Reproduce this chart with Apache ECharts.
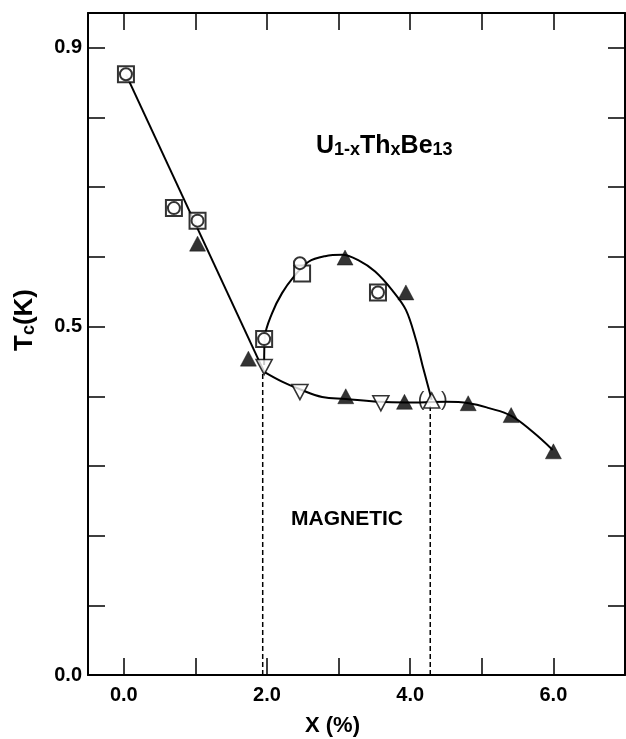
<!DOCTYPE html>
<html>
<head>
<meta charset="utf-8">
<script src="https://cdn.jsdelivr.net/npm/echarts@6/dist/echarts.min.js"></script>
<style>
  html, body { margin: 0; padding: 0; background: #ffffff; }
  #chart { width: 626px; height: 739px; }
</style>
</head>
<body>
<div id="chart"></div>
<script>
// Tc of U(1-x)Th(x)Be13 versus thorium concentration x (%)

// Samples measured with both square and circle symbols
const squareCircle = [[0.03, 0.862], [0.70, 0.670], [1.03, 0.652], [1.96, 0.482], [3.55, 0.549]];
// Sample at x = 2.5 where the two symbols split
const splitSquare = [[2.49, 0.576]];
const splitCircle = [[2.46, 0.591]];
// Filled triangles
const filledUp = [[1.03, 0.619], [1.74, 0.454], [3.09, 0.599], [3.94, 0.549], [3.10, 0.400],
                  [3.92, 0.392], [4.81, 0.390], [5.41, 0.373], [6.00, 0.321]];
// Open down-pointing triangles (lower transition)
const openDown = [[1.96, 0.442], [2.46, 0.406], [3.59, 0.390]];
// Open up triangle, bracketed
const openUp = [[4.30, 0.394]];

// Phase boundary lines
const linearBranch = [[0.03, 0.862], [1.96, 0.435]];
const domeCurve = [[1.96, 0.445], [1.97, 0.485], [2.07, 0.519], [2.21, 0.548], [2.37, 0.571],
                   [2.58, 0.593], [2.81, 0.601], [3.05, 0.603], [3.28, 0.595], [3.51, 0.579],
                   [3.75, 0.552], [3.94, 0.524], [4.08, 0.481], [4.17, 0.445], [4.24, 0.418],
                   [4.30, 0.395]];
const lowerCurve = [[1.96, 0.435], [2.21, 0.421], [2.46, 0.410], [2.77, 0.399], [3.10, 0.396],
                    [3.56, 0.392], [3.94, 0.391], [4.50, 0.392], [4.82, 0.390], [5.10, 0.383],
                    [5.41, 0.372], [5.71, 0.349], [5.99, 0.323]];
const boundaryLeft = [[1.94, 0], [1.94, 0.44]];
const boundaryRight = [[4.28, 0], [4.28, 0.39]];

// Axis ticks and labels
const xTicks = [0, 1, 2, 3, 4, 5, 6];
const xLabels = [0, 2, 4, 6];
const yTicks = [0.1, 0.2, 0.3, 0.4, 0.5, 0.6, 0.7, 0.8, 0.9];
const yLabels = [0, 0.5, 0.9];

const FONT = '"Liberation Sans", Arial, Helvetica, sans-serif';

const chart = echarts.init(document.getElementById('chart'), null, { renderer: 'canvas' });

function frameAxis(extra) {
  return Object.assign({
    type: 'value',
    axisLine: { show: true, onZero: false, lineStyle: { color: '#000', width: 2 } },
    splitLine: { show: false },
    axisLabel: { show: false },
    axisTick: { show: true, inside: true, length: 17, lineStyle: { color: '#000', width: 1.5 } }
  }, extra);
}

const labelStyle = { color: '#000', fontSize: 20, fontWeight: 'bold', fontFamily: FONT };

const lineBase = {
  type: 'line', showSymbol: false, symbol: 'none', silent: true,
  lineStyle: { color: '#000', width: 2 }, z: 2
};
const markerBase = {
  type: 'scatter', silent: true, z: 5,
  emphasis: { disabled: true }
};

chart.setOption({
  animation: false,
  backgroundColor: '#ffffff',
  grid: { left: 88, right: 1, top: 13, bottom: 64, outerBoundsMode: 'none', containLabel: false },
  title: {
    left: 316, top: 134, padding: 0,
    text: '{m|U}{s|1-x}{m|Th}{s|x}{m|Be}{s|13}',
    textStyle: {
      rich: {
        m: { fontSize: 25, fontWeight: 'bold', fontFamily: FONT, color: '#000', lineHeight: 25, verticalAlign: 'top' },
        s: { fontSize: 18, fontWeight: 'bold', fontFamily: FONT, color: '#000', lineHeight: 18, verticalAlign: 'bottom', padding: [10, 0, 0, 0] }
      }
    }
  },
  graphic: [{
    type: 'text', left: 291, top: 509, silent: true,
    style: { text: 'MAGNETIC', fontSize: 21, fontWeight: 'bold', fontFamily: FONT, fill: '#000' }
  }],
  xAxis: [
    frameAxis({
      min: -0.5, max: 7, position: 'bottom',
      axisTick: { show: true, inside: true, length: 17, customValues: xTicks, lineStyle: { color: '#000', width: 1.5 } },
      axisLabel: Object.assign({ show: true, customValues: xLabels, margin: 10, formatter: v => v.toFixed(1) }, labelStyle),
      name: 'X (%)', nameLocation: 'middle', nameGap: 40,
      nameTextStyle: { color: '#000', fontSize: 22, fontWeight: 'bold', fontFamily: FONT, padding: [0, 48, 0, 0] }
    }),
    frameAxis({
      min: -0.5, max: 7, position: 'top',
      axisTick: { show: true, inside: true, length: 17, customValues: xTicks, lineStyle: { color: '#000', width: 1.5 } }
    })
  ],
  yAxis: [
    frameAxis({
      min: 0, max: 0.95, position: 'left',
      axisTick: { show: true, inside: true, length: 17, customValues: yTicks, lineStyle: { color: '#000', width: 1.5 } },
      axisLabel: Object.assign({ show: true, customValues: yLabels, margin: 6, formatter: v => v.toFixed(1) }, labelStyle),
      name: '{t|T}{c|c}{t|(K)}', nameLocation: 'middle', nameGap: 50, nameRotate: 90,
      nameTextStyle: {
        padding: [0, 0, 0, 48],
        rich: {
          t: { fontSize: 26, fontWeight: 'bold', fontFamily: FONT, color: '#000', lineHeight: 26, verticalAlign: 'top' },
          c: { fontSize: 18, fontWeight: 'bold', fontFamily: FONT, color: '#000', lineHeight: 18, verticalAlign: 'bottom', padding: [11, 0, 0, 0] }
        }
      }
    }),
    frameAxis({
      min: 0, max: 0.95, position: 'right',
      axisTick: { show: true, inside: true, length: 17, customValues: yTicks, lineStyle: { color: '#000', width: 1.5 } }
    })
  ],
  series: [
    Object.assign({}, lineBase, { name: 'linear', data: linearBranch }),
    Object.assign({}, lineBase, { name: 'dome', data: domeCurve, smooth: 0.35 }),
    Object.assign({}, lineBase, { name: 'lower', data: lowerCurve, smooth: 0.4 }),
    Object.assign({}, lineBase, { name: 'boundaryLeft', data: boundaryLeft, lineStyle: { color: '#000', width: 1.5, type: [5, 3] } }),
    Object.assign({}, lineBase, { name: 'boundaryRight', data: boundaryRight, lineStyle: { color: '#000', width: 1.5, type: [5, 3] } }),
    Object.assign({}, markerBase, {
      name: 'square', data: squareCircle.concat(splitSquare), symbol: 'rect', symbolSize: 16,
      itemStyle: { color: '#fff', borderColor: '#000', borderWidth: 2 }
    }),
    Object.assign({}, markerBase, {
      name: 'circle', data: squareCircle.concat(splitCircle), symbol: 'circle', symbolSize: 12, z: 6,
      itemStyle: { color: '#fff', borderColor: '#000', borderWidth: 2 }
    }),
    Object.assign({}, markerBase, {
      name: 'filled', data: filledUp, symbol: 'triangle', symbolSize: [16, 15],
      itemStyle: { color: '#000', borderColor: '#000', borderWidth: 0.5 }
    }),
    Object.assign({}, markerBase, {
      name: 'openDown', data: openDown, symbol: 'triangle', symbolRotate: 180, symbolSize: [16, 15],
      itemStyle: { color: '#fff', borderColor: '#000', borderWidth: 1.6 }
    }),
    Object.assign({}, markerBase, {
      name: 'openUp', data: openUp, symbol: 'triangle', symbolSize: [16, 15],
      itemStyle: { color: '#fff', borderColor: '#000', borderWidth: 1.6 },
      label: {
        show: true, position: 'inside', formatter: '(   )',
        color: '#000', fontSize: 20, fontFamily: FONT, offset: [1, 0]
      }
    })
  ]
});
</script>
</body>
</html>
